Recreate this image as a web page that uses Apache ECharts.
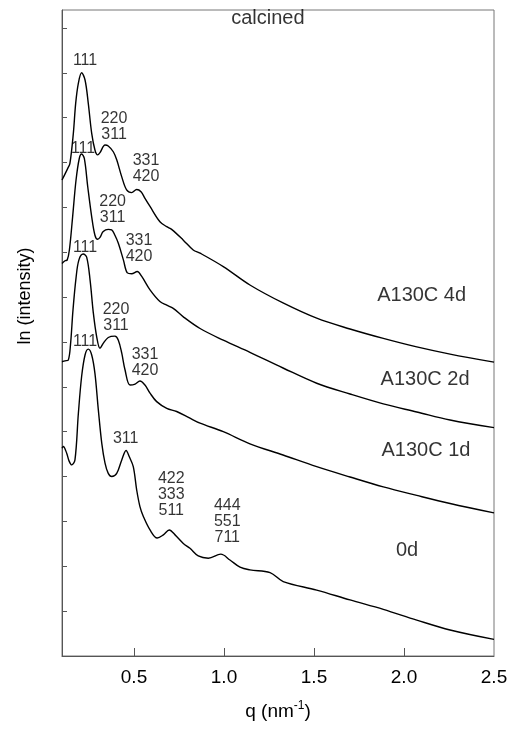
<!DOCTYPE html>
<html>
<head>
<meta charset="utf-8">
<script src="https://cdn.jsdelivr.net/npm/echarts@6/dist/echarts.min.js"></script>
<style>
  html, body { margin: 0; padding: 0; background: #fff; }
  #chart { width: 512px; height: 732px; }
</style>
</head>
<body>
<div id="chart"></div>
<script>
// SAXS profiles of calcined samples: ln(intensity) vs q (nm^-1), offset vertically
const curve4d = [
  [0.100, 10.61], [0.132, 10.87], [0.144, 10.98], [0.163, 11.65], [0.176, 12.32], [0.191, 12.77],
  [0.209, 13.00], [0.228, 12.84], [0.246, 12.32], [0.265, 11.65], [0.283, 11.28], [0.298, 11.17],
  [0.311, 11.22], [0.339, 11.39], [0.357, 11.37], [0.385, 11.24], [0.404, 11.06], [0.432, 10.68],
  [0.459, 10.39], [0.487, 10.33], [0.515, 10.40], [0.539, 10.35], [0.561, 10.20], [0.589, 10.02],
  [0.644, 9.68], [0.682, 9.57], [0.709, 9.51], [0.774, 9.27], [0.829, 9.05], [0.867, 8.98],
  [0.996, 8.68], [1.144, 8.27], [1.328, 7.87], [1.515, 7.53], [1.700, 7.29], [1.885, 7.08],
  [2.071, 6.89], [2.256, 6.73], [2.500, 6.55]
];
const curve2d = [
  [0.100, 8.75], [0.117, 8.81], [0.129, 8.83], [0.141, 9.05], [0.159, 9.79], [0.178, 10.61],
  [0.196, 11.09], [0.209, 11.19], [0.224, 11.09], [0.243, 10.46], [0.265, 9.79], [0.283, 9.38],
  [0.298, 9.29], [0.311, 9.33], [0.329, 9.46], [0.357, 9.51], [0.376, 9.50], [0.394, 9.38],
  [0.413, 9.20], [0.441, 8.83], [0.463, 8.54], [0.487, 8.52], [0.518, 8.57], [0.543, 8.46],
  [0.589, 8.16], [0.644, 7.90], [0.682, 7.82], [0.718, 7.75], [0.774, 7.56], [0.867, 7.30],
  [0.996, 7.04], [1.144, 6.77], [1.328, 6.42], [1.515, 6.08], [1.700, 5.84], [1.885, 5.62],
  [2.071, 5.44], [2.256, 5.26], [2.500, 5.09]
];
const curve1d = [
  [0.100, 6.56], [0.117, 6.58], [0.135, 6.60], [0.147, 6.93], [0.161, 7.71], [0.178, 8.43],
  [0.194, 8.83], [0.218, 8.96], [0.237, 8.89], [0.256, 8.38], [0.274, 7.65], [0.293, 7.11],
  [0.311, 6.86], [0.329, 6.97], [0.357, 7.10], [0.394, 7.13], [0.413, 7.04], [0.432, 6.75],
  [0.450, 6.38], [0.478, 6.04], [0.506, 6.06], [0.533, 6.13], [0.561, 6.04], [0.589, 5.86],
  [0.626, 5.67], [0.682, 5.52], [0.737, 5.45], [0.811, 5.30], [0.867, 5.19], [0.996, 5.00],
  [1.144, 4.73], [1.328, 4.48], [1.515, 4.22], [1.700, 3.99], [1.885, 3.77], [2.071, 3.58],
  [2.256, 3.40], [2.500, 3.19]
];
const curve0d = [
  [0.100, 4.63], [0.107, 4.67], [0.126, 4.52], [0.139, 4.35], [0.154, 4.26], [0.172, 4.37],
  [0.191, 5.41], [0.209, 6.23], [0.228, 6.71], [0.246, 6.84], [0.265, 6.71], [0.283, 6.30],
  [0.302, 5.48], [0.321, 4.74], [0.339, 4.30], [0.357, 4.07], [0.376, 4.00], [0.404, 4.07],
  [0.432, 4.37], [0.456, 4.58], [0.474, 4.44], [0.496, 4.22], [0.515, 3.70], [0.533, 3.33],
  [0.552, 3.11], [0.589, 2.81], [0.629, 2.63], [0.663, 2.70], [0.696, 2.81], [0.728, 2.70],
  [0.774, 2.51], [0.811, 2.40], [0.857, 2.23], [0.913, 2.18], [0.982, 2.27], [1.033, 2.14],
  [1.089, 1.98], [1.144, 1.92], [1.256, 1.86], [1.329, 1.66], [1.515, 1.47], [1.700, 1.25],
  [1.885, 1.04], [2.071, 0.80], [2.256, 0.58], [2.500, 0.37]
];

// Reflection indices marked at the peaks: [text, q, ln I]
const peakLabels = [
  ['111', 0.228, 13.27], ['220\n311', 0.389, 11.80], ['331\n420', 0.567, 10.87],
  ['111', 0.217, 11.30], ['220\n311', 0.381, 9.95], ['331\n420', 0.528, 9.09],
  ['111', 0.228, 9.10], ['220\n311', 0.400, 7.54], ['331\n420', 0.561, 6.53],
  ['111', 0.228, 7.01], ['311', 0.454, 4.84], ['422\n333\n511', 0.707, 3.60],
  ['444\n551\n711', 1.018, 2.99]
];
// Sample names and heading: [text, q, ln I]
const sampleLabels = [
  ['calcined', 1.244, 14.22], ['A130C 4d', 2.098, 8.03], ['A130C 2d', 2.117, 6.17],
  ['A130C 1d', 2.122, 4.58], ['0d', 2.017, 2.36]
];

const xLabelValues = [0.5, 1.0, 1.5, 2.0, 2.5];
const xTickValues = [0.5, 1.0, 1.5, 2.0];
const yTickValues = [1, 2, 3, 4, 5, 6, 7, 8, 9, 10, 11, 12, 13, 14];

const FONT = 'Liberation Sans, Arial, Helvetica, sans-serif';
const AXIS_COLOR = '#555';
const TEXT_COLOR = '#000';

const lineSeries = (name, data) => ({
  name, type: 'line', data, showSymbol: false, smooth: 0.35, silent: true,
  lineStyle: { color: '#000', width: 1.4 }
});

const textSeries = (rows, fontSize, lineHeight) => ({
  type: 'scatter', symbolSize: 0, silent: true,
  data: rows.map(r => ({ name: r[0], value: [r[1], r[2]] })),
  label: {
    show: true, position: 'inside', formatter: '{b}', color: TEXT_COLOR,
    textBorderWidth: 0, textBorderColor: 'transparent',
    fontFamily: FONT, fontSize, lineHeight, align: 'center', verticalAlign: 'middle'
  }
});

const chart = echarts.init(document.getElementById('chart'), null, { renderer: 'canvas' });
chart.setOption({
  animation: false,
  backgroundColor: '#fff',
  grid: {
    left: 62, right: 18, top: 10, bottom: 76,
    show: true, borderColor: '#777', borderWidth: 1,
    outerBoundsMode: 'none'
  },
  xAxis: {
    type: 'value', min: 0.1, max: 2.5,
    name: 'q (nm{sup|-1})', nameLocation: 'middle', nameGap: 44,
    nameTextStyle: {
      fontFamily: FONT, fontSize: 19, color: TEXT_COLOR, lineHeight: 24,
      rich: { sup: { fontFamily: FONT, fontSize: 12, color: TEXT_COLOR, verticalAlign: 'top', lineHeight: 24, padding: [0, 0, 10, 0] } }
    },
    axisLine: { show: true, lineStyle: { color: AXIS_COLOR, width: 1 } },
    axisTick: { show: true, inside: true, length: 8, customValues: xTickValues, lineStyle: { color: AXIS_COLOR } },
    axisLabel: {
      show: true, customValues: xLabelValues, margin: 12,
      fontFamily: FONT, fontSize: 19, color: TEXT_COLOR,
      formatter: v => v.toFixed(1)
    },
    splitLine: { show: false }
  },
  yAxis: {
    type: 'value', min: 0, max: 14.4,
    name: 'ln (intensity)', nameLocation: 'middle', nameRotate: 90, nameGap: 28,
    nameTextStyle: { fontFamily: FONT, fontSize: 18, color: TEXT_COLOR, padding: [0, 0, 0, 74] },
    axisLine: { show: true, lineStyle: { color: AXIS_COLOR, width: 1 } },
    axisTick: { show: true, inside: true, length: 5, customValues: yTickValues, lineStyle: { color: AXIS_COLOR } },
    axisLabel: { show: false },
    splitLine: { show: false }
  },
  series: [
    lineSeries('A130C 4d', curve4d),
    lineSeries('A130C 2d', curve2d),
    lineSeries('A130C 1d', curve1d),
    lineSeries('0d', curve0d),
    textSeries(peakLabels, 16, 16),
    textSeries(sampleLabels, 20, 22)
  ]
});
</script>
</body>
</html>
